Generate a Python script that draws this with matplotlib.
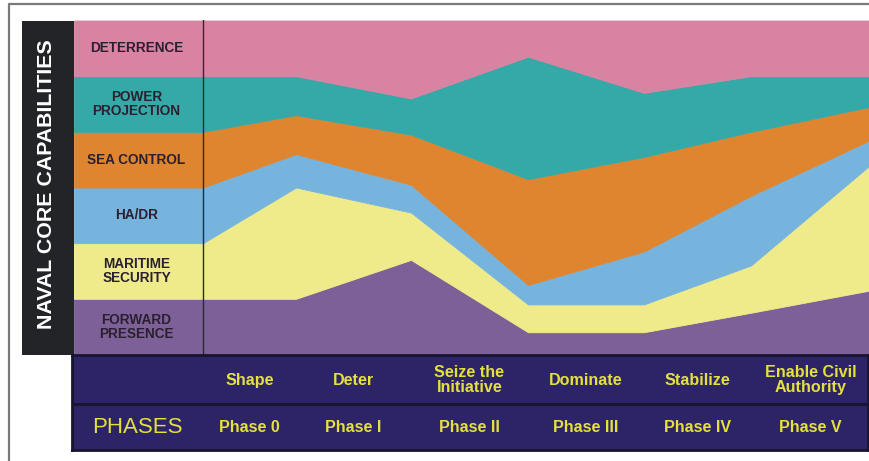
import matplotlib
matplotlib.use('Agg')
import matplotlib.pyplot as plt
from matplotlib.lines import Line2D

# ---------------- data ----------------
capabilities = ['FORWARD\nPRESENCE', 'MARITIME\nSECURITY', 'HA/DR',
                'SEA CONTROL', 'POWER\nPROJECTION', 'DETERRENCE']
# relative emphasis at the boundaries of the phases (start of Phase 0 ... end of Phase V)
forward_presence = [1.0, 1.0, 1.7, 0.4, 0.4, 0.75, 1.15]
maritime_security = [1.0, 2.0, 0.85, 0.5, 0.5, 0.85, 2.25]
ha_dr = [1.0, 0.6, 0.5, 0.35, 0.95, 1.25, 0.45]
sea_control = [1.0, 0.7, 0.9, 1.9, 1.7, 1.15, 0.6]
power_projection = [1.0, 0.7, 0.65, 2.2, 1.15, 1.0, 0.55]
deterrence = [1.0, 1.0, 1.4, 0.65, 1.3, 1.0, 1.0]
phase_names = ['Shape', 'Deter', 'Seize the\nInitiative', 'Dominate',
               'Stabilize', 'Enable Civil\nAuthority']
phase_numbers = ['Phase 0', 'Phase I', 'Phase II', 'Phase III',
                 'Phase IV', 'Phase V']
title_text = 'NAVAL CORE CAPABILITIES'
phases_text = 'PHASES'

# ---------------- layout (pixels) ----------------
W, H = 870, 461
label_left = 74
boundary_px = [203, 296, 411, 528, 644, 751, 870]
chart_top, chart_bottom = 20.5, 354.5

colors = ['#7e6098', '#efeb8b', '#77b4dd', '#df8530', '#35a9a7', '#d983a3']
FONT = ['Liberation Sans', 'DejaVu Sans']

fig = plt.figure(figsize=(W / 100, H / 100), dpi=100)
fig.patch.set_facecolor('white')


def ax_px(x0, y0, x1, y1, **kw):
    return fig.add_axes([x0 / W, 1 - y1 / H, (x1 - x0) / W, (y1 - y0) / H], **kw)


# outer frame
fig.add_artist(Line2D([9 / W, 9 / W, 1.0], [0.0, 1 - 4 / H, 1 - 4 / H],
                      transform=fig.transFigure, color='#7a7a7a', lw=1.6))

# ---------------- stacked area ----------------
series = [forward_presence, maritime_security, ha_dr, sea_control,
          power_projection, deterrence]
xs = [label_left] + boundary_px
ys = [[s[0]] + list(s) for s in series]

ax = ax_px(label_left, chart_top, 870, chart_bottom)
polys = ax.stackplot(xs, *ys, colors=colors, linewidth=0.6)
for p, c in zip(polys, colors):
    p.set_edgecolor(c)
ax.set_xlim(label_left, 870)
ax.set_ylim(0, sum(s[0] for s in series))
ax.axvline(boundary_px[0], color='#2a2a2a', lw=1.0)
ax.set_axis_off()

label_cx = (label_left + boundary_px[0]) / 2 - 2
for i, name in enumerate(capabilities):
    ax.text(label_cx, i + 0.5, name, ha='center', va='center',
            fontsize=9.8, fontweight='bold', color='#2a2030',
            family=FONT, linespacing=1.0)

# ---------------- black side bar ----------------
axb = ax_px(22.5, chart_top, label_left, 355)
axb.set_facecolor('#232427')
axb.set_xticks([]); axb.set_yticks([])
for s in axb.spines.values():
    s.set_visible(False)
axb.text(0.47, 0.51, title_text, rotation=90, ha='center', va='center',
         color='white', fontsize=15.4, fontweight='bold', family=FONT,
         transform=axb.transAxes)

# ---------------- phases table ----------------
tb_left, tb_right, tb_top, tb_bottom = 72.5, 868, 355, 450
axt = ax_px(tb_left, tb_top, tb_right, tb_bottom)
axt.set_facecolor('#2d2468')
axt.set_xlim(tb_left, tb_right)
axt.set_ylim(tb_bottom, tb_top)
axt.set_xticks([]); axt.set_yticks([])
for s in axt.spines.values():
    s.set_color('#17152f')
    s.set_linewidth(2.0)
axt.axhline(404, color='#17152f', lw=2.0)

yellow = '#e4e03c'
row1_y, row2_y = 380, 427
centers = [(a + b) / 2 for a, b in zip(boundary_px[:-1], boundary_px[1:])]
for cx, nm, num in zip(centers, phase_names, phase_numbers):
    axt.text(cx, row1_y, nm, ha='center', va='center', color=yellow,
             fontsize=11.6, fontweight='bold', family=FONT,
             linespacing=0.95)
    axt.text(cx, row2_y, num, ha='center', va='center', color=yellow,
             fontsize=11.6, fontweight='bold', family=FONT)
axt.text(137, row2_y, phases_text, ha='center', va='center', color=yellow,
         fontsize=16, family=FONT)

fig.savefig('out.png', dpi=100, facecolor='white')
